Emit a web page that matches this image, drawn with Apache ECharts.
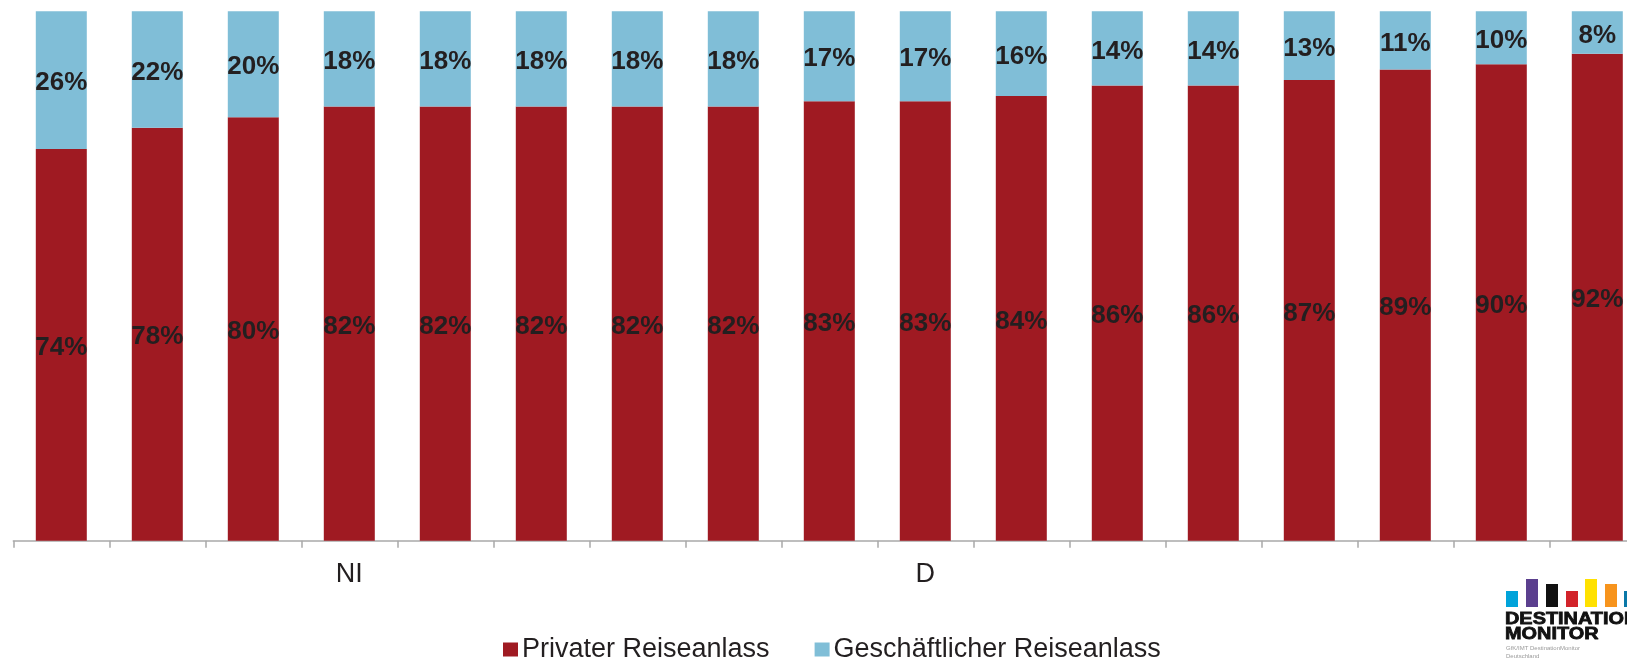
<!DOCTYPE html>
<html>
<head>
<meta charset="utf-8">
<title>Reiseanlass</title>
<script src="https://cdn.jsdelivr.net/npm/echarts@6/dist/echarts.min.js"></script>
<style>
  html, body { margin: 0; padding: 0; background: #ffffff; }
  #chart { width: 1627px; height: 665px; }
</style>
</head>
<body>
<div id="chart"></div>
<script>
// Category labels (only the highlighted regions carry a visible name)
const categories = ['', '', '', 'NI', '', '', '', '', '', 'D', '', '', '', '', '', '', ''];

// Share of trips by purpose, in percent
const privat = [74, 78, 80, 82, 82, 82, 82, 82, 83, 83, 84, 86, 86, 87, 89, 90, 92];
const geschaeftlich = [26, 22, 20, 18, 18, 18, 18, 18, 17, 17, 16, 14, 14, 13, 11, 10, 8];

const seriesNames = ['Privater Reiseanlass', 'Geschäftlicher Reiseanlass'];

const RED = '#9f1a22';
const BLUE = '#80bed7';
const TEXT = '#231f20';
const FONT = '"Liberation Sans", Arial, sans-serif';

const chart = echarts.init(document.getElementById('chart'), null, { renderer: 'canvas' });

const valueLabel = {
  show: true,
  position: 'inside',
  offset: [0, 3],
  formatter: '{c}%',
  color: TEXT,
  fontFamily: FONT,
  fontWeight: 'bold',
  fontSize: 26
};

// Logo in the lower right corner
const logoBars = [
  { x: 1506, y: 591, h: 16, c: '#00a3da' },
  { x: 1526, y: 579, h: 28, c: '#5b3f8e' },
  { x: 1546, y: 584, h: 23, c: '#111111' },
  { x: 1566, y: 591, h: 16, c: '#d2232a' },
  { x: 1585, y: 579, h: 28, c: '#ffe100' },
  { x: 1605, y: 584, h: 23, c: '#f7941d' },
  { x: 1624, y: 591, h: 16, c: '#0a78a8' }
];

const logoWord = (text, top) => ({
  type: 'text', silent: true, x: 1505, y: top, scaleX: 1.17,
  style: { text: text, font: 'bold 17px ' + FONT, fill: '#111111', stroke: '#111111', lineWidth: 0.8 }
});

const logo = logoBars.map(b => ({
  type: 'rect',
  silent: true,
  shape: { x: b.x, y: b.y, width: 12, height: b.h },
  style: { fill: b.c }
})).concat([
  logoWord('DESTINATION', 611),
  logoWord('MONITOR', 626),
  { type: 'text', silent: true, left: 1506, top: 645,
    style: { text: 'GfK/IMT DestinationMonitor', font: '6px ' + FONT, fill: '#9a9a9a' } },
  { type: 'text', silent: true, left: 1506, top: 653,
    style: { text: 'Deutschland', font: '6px ' + FONT, fill: '#9a9a9a' } }
]);

chart.setOption({
  animation: false,
  backgroundColor: '#ffffff',
  grid: {
    left: 13.3, top: 11.3, width: 1632, bottom: 124.3,
    containLabel: false, outerBoundsMode: 'none'
  },
  legend: {
    data: seriesNames,
    left: 503,
    top: 636,
    padding: 0,
    itemGap: 45,
    itemWidth: 15,
    itemHeight: 14,
    icon: 'rect',
    textStyle: { color: TEXT, fontFamily: FONT, fontSize: 27, padding: [0, 0, 0, -1] }
  },
  xAxis: {
    type: 'category',
    data: categories,
    axisLine: { show: true, lineStyle: { color: '#a9a9a9', width: 1.5 } },
    axisTick: { show: true, alignWithLabel: false, length: 7, lineStyle: { color: '#a9a9a9', width: 1.5 } },
    axisLabel: { interval: 0, margin: 20, color: TEXT, fontFamily: FONT, fontSize: 27 }
  },
  yAxis: {
    type: 'value',
    min: 0,
    max: 100,
    show: false,
    splitLine: { show: false }
  },
  series: [
    {
      name: seriesNames[0],
      type: 'bar',
      stack: 'total',
      barWidth: 51,
      data: privat,
      itemStyle: { color: RED },
      label: valueLabel
    },
    {
      name: seriesNames[1],
      type: 'bar',
      stack: 'total',
      barWidth: 51,
      data: geschaeftlich,
      itemStyle: { color: BLUE },
      label: valueLabel
    }
  ],
  graphic: logo
});
</script>
</body>
</html>
